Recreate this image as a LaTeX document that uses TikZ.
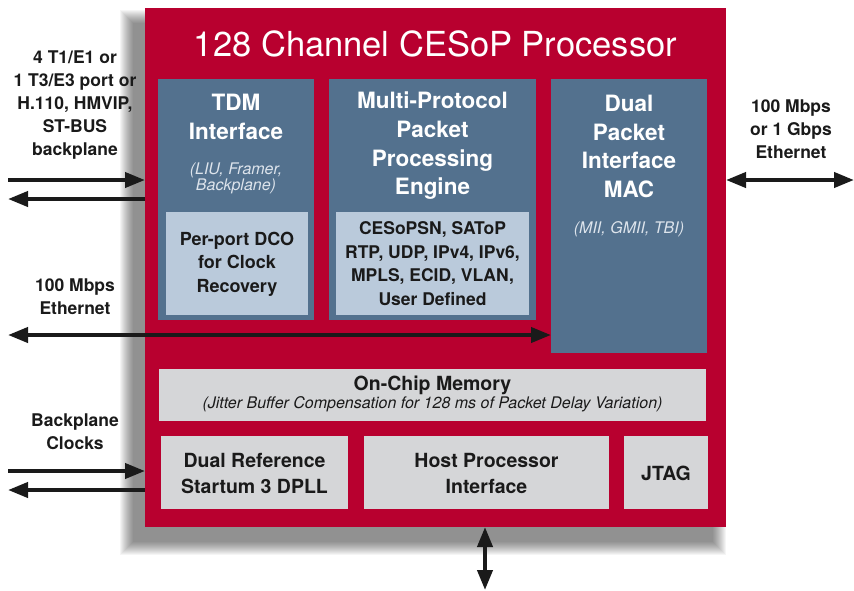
\documentclass[tikz,border=0pt]{standalone}
\usepackage{fontspec}
\setmainfont{TeX Gyre Heros}
\usetikzlibrary{arrows.meta}
\definecolor{chipred}{HTML}{B8002F}
\definecolor{steel}{HTML}{53718E}
\definecolor{paleblue}{HTML}{BACADB}
\definecolor{panelgrey}{HTML}{D5D6D8}
\definecolor{ink}{HTML}{1A1A1A}
\definecolor{notewhite}{HTML}{DDE4EC}
\begin{document}
\begin{tikzpicture}[x=1pt,y=-1pt,
  blk/.style={draw=none,inner sep=0pt,outer sep=0pt,anchor=north west},
  bluebox/.style={blk,fill=steel},
  palebox/.style={blk,fill=paleblue},
  greybox/.style={blk,fill=panelgrey},
  whitehead/.style={text=white,font=\fontsize{22.5}{28.7}\selectfont\bfseries,align=center,inner sep=0pt},
  darkbold/.style={text=ink,font=\fontsize{18}{23.5}\selectfont\bfseries,align=center,inner sep=0pt},
  sidelabel/.style={text=ink,font=\fontsize{17.5}{23}\selectfont\bfseries,align=center,inner sep=0pt},
  note/.style={text=notewhite,font=\fontsize{16}{16}\selectfont\itshape,align=center,inner sep=0pt},
  arr/.style={line width=4pt,draw=ink,-{Triangle[length=20pt,width=15pt]}},
  darr/.style={line width=4pt,draw=ink,{Triangle[length=20pt,width=15pt]}-{Triangle[length=20pt,width=15pt]}}
]
\useasboundingbox (0,0) rectangle (854,590);
% shadow (soft, towards lower left)
\foreach \i in {0,...,13}{
  \fill[black,opacity=0.04] (134-14+\i,24-14+\i) rectangle (712+14-\i,541+14-\i);
}
% main chip
\node[blk,fill=chipred,minimum width=581pt,minimum height=519pt] (chip) at (145,8) {};
\node[text=white,font=\fontsize{34.5}{40}\selectfont,inner sep=0pt] (title) at (435.5,44) {128 Channel CESoP Processor};
% TDM
\node[bluebox,minimum width=156pt,minimum height=241pt] (tdm) at (158,79) {};
\node[whitehead] (tdmt) at (236,117) {TDM\\Interface};
\node[note] (tdmn) at (236,178) {(LIU, Framer,\\Backplane)};
\node[palebox,minimum width=142pt,minimum height=103pt] (dco) at (166,212) {};
\node[darkbold] (dcot) at (237,264) {Per-port DCO\\for Clock\\Recovery};
% Multi-protocol
\node[bluebox,minimum width=207pt,minimum height=241pt] (mpp) at (329,79) {};
\node[whitehead] (mppt) at (432.5,146) {Multi-Protocol\\Packet\\Processing\\Engine};
\node[palebox,minimum width=193pt,minimum height=103pt] (proto) at (336,212) {};
\node[darkbold,font=\fontsize{17.5}{23.5}\selectfont\bfseries] (protot) at (432.5,263.5) {CESoPSN, SAToP\\RTP, UDP, IPv4, IPv6,\\MPLS, ECID, VLAN,\\User Defined};
% Dual packet MAC
\node[bluebox,minimum width=156pt,minimum height=274pt] (mac) at (551,79) {};
\node[whitehead] (mact) at (629,146.5) {Dual\\Packet\\Interface\\MAC};
\node[note] (macn) at (629,229) {(MII, GMII, TBI)};
% memory
\node[greybox,minimum width=547pt,minimum height=52pt] (mem) at (159,369) {};
\node[text=ink,font=\fontsize{19.5}{22}\selectfont\bfseries,inner sep=0pt] (memt) at (432.5,385) {On-Chip Memory};
\node[text=ink,font=\fontsize{16}{16}\selectfont\itshape,inner sep=0pt] (memn) at (432.5,404) {(Jitter Buffer Compensation for 128 ms of Packet Delay Variation)};
% bottom row
\node[greybox,minimum width=187pt,minimum height=73pt] (dpll) at (161,436) {};
\node[darkbold,font=\fontsize{19.5}{26}\selectfont\bfseries] (dpllt) at (254.5,473) {Dual Reference\\Startum 3 DPLL};
\node[greybox,minimum width=245pt,minimum height=73pt] (host) at (364,436) {};
\node[darkbold,font=\fontsize{19.5}{26}\selectfont\bfseries] (hostt) at (486.5,473) {Host Processor\\Interface};
\node[greybox,minimum width=84pt,minimum height=73pt] (jtag) at (624,436) {};
\node[darkbold,font=\fontsize{19.5}{26}\selectfont\bfseries] (jtagt) at (666,473) {JTAG};
% side labels
\node[sidelabel] (tdmlab) at (75,105) {4 T1/E1 or\\1 T3/E3 port or\\H.110, HMVIP,\\ST-BUS\\backplane};
\node[sidelabel] (ethlab) at (75,296.5) {100 Mbps\\Ethernet};
\node[sidelabel] (clklab) at (75,431.5) {Backplane\\Clocks};
\node[sidelabel] (gbelab) at (791,129) {100 Mbps\\or 1 Gbps\\Ethernet};
% connector end points
\coordinate (tdmin) at (8,180);
\coordinate (tdmout) at (8,199);
\coordinate (eth) at (8,335);
\coordinate (gbe) at (854,180);
\coordinate (clkin) at (8,471);
\coordinate (clkout) at (8,490);
\coordinate (bus) at (485,590);
% connectors
\draw[arr] (tdmin) -- (tdmin -| chip.west);
\draw[arr] (tdmout -| chip.west) -- (tdmout);
\draw[darr] (eth) -- (eth -| mac.west);
\draw[darr] (chip.east |- gbe) -- (gbe);
\draw[arr] (clkin) -- (clkin -| chip.west);
\draw[arr] (clkout -| chip.west) -- (clkout);
\draw[darr] (bus |- chip.south) -- (bus);
\end{tikzpicture}
\end{document}
